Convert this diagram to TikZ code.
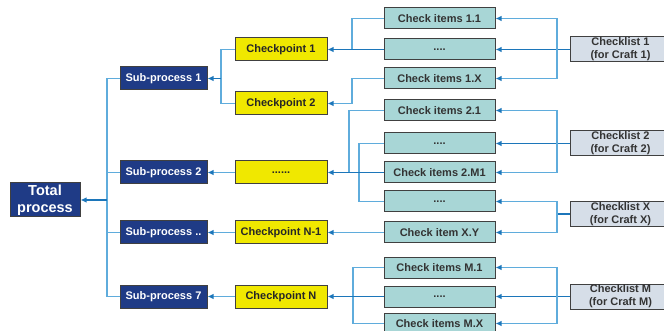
\documentclass[tikz,border=0pt]{standalone}
\usepackage{fontspec}
\setmainfont{Liberation Sans}
\usetikzlibrary{arrows.meta}

\definecolor{procblue}{RGB}{31,59,134}
\definecolor{cpyellow}{RGB}{240,232,0}
\definecolor{itemteal}{RGB}{168,214,214}
\definecolor{listgray}{RGB}{214,222,232}
\definecolor{linkblue}{RGB}{95,172,220}
\definecolor{trunkblue}{RGB}{28,118,186}

\tikzset{
  box/.style={draw=black!75, line width=1pt, inner sep=0pt, align=center,
    font=\fontsize{11}{13}\selectfont\bfseries},
  proc/.style={box, fill=procblue, text=white, minimum width=87pt, minimum height=23pt},
  total/.style={proc, minimum width=70pt, minimum height=34pt,
    font=\fontsize{14.5}{17}\selectfont\bfseries},
  cpoint/.style={box, fill=cpyellow, text=black!85, minimum width=92pt, minimum height=23pt},
  item/.style={box, fill=itemteal, text=black!80, minimum width=111pt, minimum height=21pt},
  clist/.style={box, fill=listgray, text=black!80, minimum width=101pt, minimum height=25pt},
  link/.style={draw=linkblue, line width=1.3pt},
  trunk/.style={draw=trunkblue, line width=1.9pt},
  tip/.style={-{Latex[length=6pt,width=5.5pt,color=trunkblue]}}
}

\begin{document}
\begin{tikzpicture}[x=1pt,y=-1pt]
  \useasboundingbox (0,0) rectangle (664,331);

  \node[total] (total) at (45,200) {Total\\process};

  \node[proc] (sp1) at (163.5,78.5) {Sub-process 1};
  \node[proc] (sp2) at (163.5,172.5) {Sub-process 2};
  \node[proc] (spn) at (163.5,232.5) {Sub-process ..};
  \node[proc] (sp7) at (163.5,296.5) {Sub-process 7};

  \node[cpoint] (cp1) at (281,49.5) {Checkpoint 1};
  \node[cpoint] (cp2) at (281,103.5) {Checkpoint 2};
  \node[cpoint] (cpd) at (281,172.5) {......};
  \node[cpoint] (cpn1) at (281,232.5) {Checkpoint N-1};
  \node[cpoint] (cpn) at (281,296.5) {Checkpoint N};

  \node[item] (it11) at (439.5,18.5) {Check items 1.1};
  \node[item] (it1d) at (439.5,49.5) {....};
  \node[item] (it1x) at (439.5,78.5) {Check items 1.X};
  \node[item] (it21) at (439.5,110.5) {Check items 2.1};
  \node[item] (it2d) at (439.5,143.5) {....};
  \node[item] (it2m) at (439.5,172.5) {Check items 2.M1};
  \node[item] (itxd) at (439.5,201.5) {....};
  \node[item] (itxy) at (439.5,232.5) {Check item X.Y};
  \node[item] (itm1) at (439.5,267.5) {Check items M.1};
  \node[item] (itmd) at (439.5,296.5) {....};
  \node[item] (itmx) at (439.5,323.5) {Check items M.X};

  \node[clist] (cl1) at (620.5,49.5) {Checklist 1\\(for Craft 1)};
  \node[clist] (cl2) at (620.5,143.5) {Checklist 2\\(for Craft 2)};
  \node[clist] (clx) at (620.5,214) {Checklist X\\(for Craft X)};
  \node[clist] (clm) at (620.5,296.5) {Checklist M\\(for Craft M)};

  % junctions
  \coordinate (lbus) at (107,200);
  \coordinate (j1) at (221,78.5);
  \coordinate (ja) at (352,49.5);
  \coordinate (jb) at (352,103.5);
  \coordinate (jc) at (349,172.5);
  \coordinate (jd) at (359,172.5);
  \coordinate (je) at (353,296.5);
  \coordinate (ra) at (557,49.5);
  \coordinate (rb) at (557,143.5);
  \coordinate (rc) at (557,214);
  \coordinate (rd) at (557,296.5);

  % sub-processes into total process
  \foreach \s in {sp1,sp2,spn,sp7}
    {\draw[link] (\s.west) -| (lbus);}
  \draw[trunk,tip] (lbus) -- (total.east);

  % checkpoints into sub-processes
  \draw[link] (cp1.west) -| (j1);
  \draw[link] (cp2.west) -| (j1);
  \draw[trunk,tip] (j1) -- (sp1.east);
  \draw[link,tip] (cpd.west) -- (sp2.east);
  \draw[link,tip] (cpn1.west) -- (spn.east);
  \draw[link,tip] (cpn.west) -- (sp7.east);

  % check items into checkpoints
  \draw[link] (it11.west) -| (ja);
  \draw[trunk,tip] (it1d.west) -- (cp1.east);
  \draw[link,tip] (it1x.west) -| (jb) -- (cp2.east);
  \draw[link] (it21.west) -| (jc);
  \draw[link] (it2d.west) -| (jd);
  \draw[link] (itxd.west) -| (jd);
  \draw[trunk,tip] (it2m.west) -- (cpd.east);
  \draw[link,tip] (itxy.west) -- (cpn1.east);
  \draw[link] (itm1.west) -| (je);
  \draw[link] (itmx.west) -| (je);
  \draw[trunk,tip] (itmd.west) -- (cpn.east);

  % checklists into check items
  \draw[trunk,tip] (cl1.west) -- (it1d.east);
  \draw[link,tip] (ra) |- (it11.east);
  \draw[link,tip] (ra) |- (it1x.east);
  \draw[trunk,tip] (cl2.west) -- (it2d.east);
  \draw[link,tip] (rb) |- (it21.east);
  \draw[link,tip] (rb) |- (it2m.east);
  \draw[trunk] (clx.west) -- (rc);
  \draw[link,tip] (rc) |- (itxd.east);
  \draw[link,tip] (rc) |- (itxy.east);
  \draw[trunk,tip] (clm.west) -- (itmd.east);
  \draw[link,tip] (rd) |- (itm1.east);
  \draw[link,tip] (rd) |- (itmx.east);
\end{tikzpicture}
\end{document}
